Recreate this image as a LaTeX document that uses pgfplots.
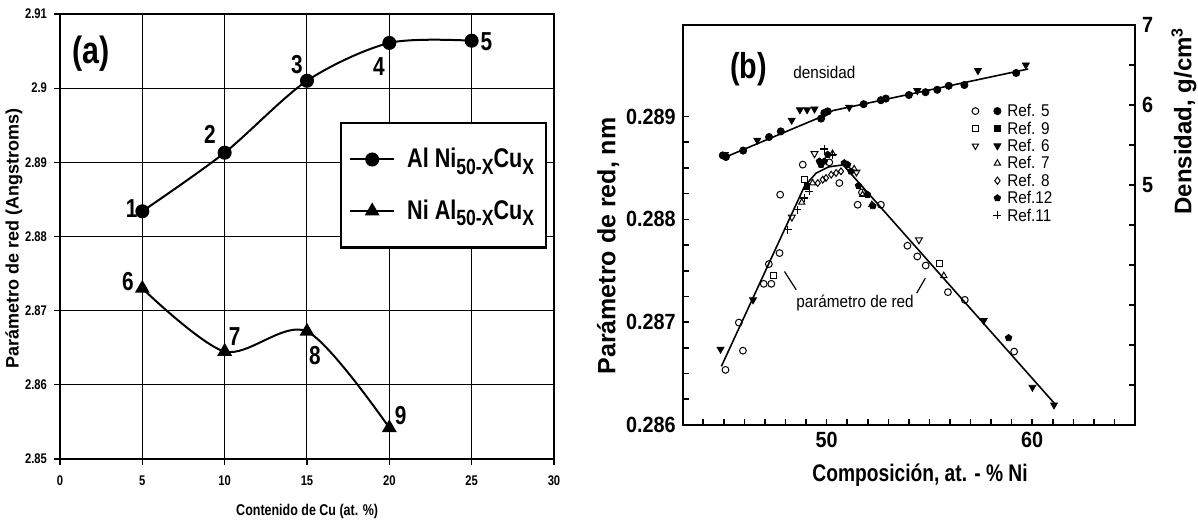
\documentclass[border=0pt]{standalone}
\usepackage{fontspec}
\setmainfont{Liberation Sans}
\newfontfamily\nA[FakeStretch=0.8]{Liberation Sans}
\newfontfamily\nB[FakeStretch=0.9]{Liberation Sans}
\usepackage{pgfplots}
\pgfplotsset{compat=1.18}
\newcommand{\sub}[1]{\raisebox{-3.3pt}{\fontsize{11}{11}\selectfont #1}}
\begin{document}
\begin{tikzpicture}
\useasboundingbox (0pt,0pt) rectangle (599pt,262pt);
% ---------------- Panel (a)
\begin{axis}[
  at={(30pt,32.5pt)}, anchor=south west, scale only axis,
  width=247pt, height=222.5pt,
  xmin=0, xmax=30, ymin=2.85, ymax=2.91,
  xtick={0,5,10,15,20,25,30},
  ytick={2.85,2.86,2.87,2.88,2.89,2.9,2.91},
  xtick pos=bottom, ytick pos=left,
  grid=major, major grid style={line width=0.5pt, black},
  axis line style={line width=1.1pt},
  tick align=outside, major tick length=3pt,
  tick style={line width=0.6pt, black},
  scaled y ticks=false,
  yticklabel style={/pgf/number format/.cd, fixed, precision=2},
  /pgf/number format/assume math mode=true,
  tick label style={font=\nA\bfseries\fontsize{7}{8}\selectfont},
  xticklabel style={yshift=-2pt},
  clip=false,
  legend cell align=left,
  legend style={at={(0.5668,0.7573)}, anchor=north west, draw=black,
    line width=1.2pt, fill=white, inner xsep=4pt, inner ysep=10.5pt,
    row sep=10.5pt, font=\nA\bfseries\fontsize{13.5}{14}\selectfont,
    /tikz/every odd column/.append style={column sep=4pt}},
]
\addplot[line width=1pt, smooth, mark=*, mark size=3pt, mark options={solid, fill=black},
  legend image code/.code={\draw[line width=1pt] (0pt,0pt) -- (22pt,0pt); \draw[mark=*, mark size=3pt] plot coordinates {(11pt,0pt)};}]
  coordinates {(5,2.8834)(10,2.8913)(15,2.9010)(20,2.9061)(25,2.9064)};
\addlegendentry{Al Ni\sub{50-X}Cu\sub{X}}
\addplot[line width=1pt, smooth, mark=triangle*, mark size=3.3pt, mark options={solid, fill=black},
  legend image code/.code={\draw[line width=1pt] (0pt,0pt) -- (22pt,0pt); \draw[mark=triangle*, mark size=3.3pt] plot coordinates {(11pt,0pt)};}]
  coordinates {(5,2.8730)(10,2.8645)(15,2.8672)(20,2.8542)};
\addlegendentry{Ni Al\sub{50-X}Cu\sub{X}}
\begin{scope}[every node/.style={font=\nA\bfseries\fontsize{13}{13}\selectfont}]
\node at (axis cs:4.35,2.8838) {1};
\node at (axis cs:9.10,2.8937) {2};
\node at (axis cs:14.39,2.9032) {3};
\node at (axis cs:19.37,2.9029) {4};
\node at (axis cs:25.9,2.9063) {5};
\node at (axis cs:4.12,2.8739) {6};
\node at (axis cs:10.61,2.8665) {7};
\node at (axis cs:15.48,2.8640) {8};
\node at (axis cs:20.69,2.8559) {9};
\end{scope}
\node[font=\nA\bfseries\fontsize{19}{19}\selectfont] at (axis cs:1.87,2.9047) {(a)};
\node[rotate=90, font=\bfseries\fontsize{9}{10}\selectfont] at (rel axis cs:-0.0931,0.4966) {Parámetro de red (Angstroms)};
\node[font=\nA\bfseries\fontsize{7.8}{9}\selectfont] at (rel axis cs:0.5004,-0.119) {Contenido de Cu (at. \%)};
\end{axis}
% ---------------- Panel (b), lattice parameter (left axis)
\begin{axis}[
  at={(341.35pt,49.5pt)}, anchor=south west, scale only axis,
  width=226.15pt, height=200pt,
  xmin=43, xmax=65, ymin=0.286, ymax=0.28989,
  xtick={50,60}, minor xtick={44,45,46,47,48,49,51,52,53,54,55,56,57,58,59,61,62,63,64},
  ytick={0.286,0.287,0.288,0.289}, minor y tick num=3,
  xtick pos=bottom, ytick pos=left,
  tick align=inside, major tick length=3pt, minor tick length=3pt,
  axis line style={line width=1.2pt},
  tick style={line width=0.8pt, black},
  scaled y ticks=false,
  yticklabel style={/pgf/number format/.cd, fixed, precision=3, fixed zerofill},
  /pgf/number format/assume math mode=true,
  tick label style={font=\nB\bfseries\fontsize{11}{12}\selectfont},
  clip=false,
  legend cell align=left,
  legend style={at={(0.6197,0.8175)}, anchor=north west, draw=none, fill=none,
    font=\nB\fontsize{8.5}{9}\selectfont, row sep=0pt,
    nodes={inner sep=1pt, text height=6.2pt, text depth=0.5pt}},
]
% line through lattice parameter data
\addplot[forget plot, line width=0.8pt] coordinates {
  (44.88,0.28657)(48.92,0.28832)(49.49,0.28845)(50.1,0.28851)(50.8,0.28853)(61.08,0.28621)};
% Ref. 5 open circles
\addplot[forget plot, only marks, mark=o, mark size=1.7pt, line width=0.5pt] coordinates {
  (45.08,0.286536)(45.93,0.286723)(45.73,0.286996)(46.94,0.287373)(47.31,0.287373)
  (47.19,0.287565)(47.71,0.287672)(47.74,0.288240)(48.84,0.288532)(50.13,0.288554)
  (50.62,0.288353)(51.51,0.288142)(51.72,0.288262)(52.64,0.288142)(53.93,0.287743)
  (54.41,0.287639)(54.82,0.287551)(55.90,0.287292)(56.72,0.287217)(59.12,0.286714)};
% Ref. 9 open squares
\addplot[forget plot, only marks, mark=square, mark size=1.5pt, line width=0.5pt] coordinates {
  (47.42,0.287454)(48.92,0.288386)(55.49,0.287574)};
% Ref. 9 filled squares
\addplot[forget plot, only marks, mark=square*, mark size=1.4pt] coordinates {
  (49.05,0.288320)};
% Ref. 6 filled down triangles
\addplot[forget plot, only marks, mark=triangle*, mark size=2pt, mark options={rotate=180, fill=black}] coordinates {
  (44.84,0.286737)(46.42,0.287217)(57.64,0.287016)(60.01,0.286367)(61.06,0.286195)};
% Ref. 6 open down triangles
\addplot[forget plot, only marks, mark=triangle, mark size=2pt, line width=0.5pt, mark options={rotate=180}] coordinates {
  (48.31,0.288022)(49.41,0.288639)(54.49,0.287801)(51.45,0.288460)};
% Ref. 7 open up triangles
\addplot[forget plot, only marks, mark=triangle, mark size=1.8pt, line width=0.5pt] coordinates {
  (48.79,0.288165)(49.32,0.288353)(50.29,0.288639)(51.34,0.288490)(52.20,0.288142)(51.75,0.288240)(55.70,0.287451)};
% Ref. 8 diamonds
\addplot[forget plot, only marks, mark=diamond, mark size=1.7pt, line width=0.5pt] coordinates {
  (49.57,0.288353)(49.81,0.288386)(49.97,0.288402)(50.22,0.288434)(50.46,0.288451)(50.70,0.288467)};
% Ref. 12 filled pentagons
\addplot[forget plot, only marks, mark=pentagon*, mark size=1.7pt] coordinates {
  (49.65,0.288564)(49.73,0.288532)(49.89,0.288564)(50.05,0.288629)(50.86,0.288548)(51.02,0.288532)
  (51.18,0.288467)(51.55,0.288327)(51.99,0.288240)(52.25,0.288130)(58.85,0.286847)};
% Ref. 11 plus
\addplot[forget plot, only marks, mark=+, mark size=2pt, line width=0.6pt] coordinates {
  (48.10,0.287900)(48.57,0.288093)(48.92,0.288207)(49.16,0.288272)(49.89,0.288684)(50.29,0.288629)};
% legend
\addlegendimage{legend image code/.code={\path[draw=none] (-3pt,0pt) (15pt,0pt); \draw[mark=o, mark size=1.7pt, line width=0.5pt] plot coordinates {(0pt,0pt)}; \draw[mark=*, mark size=1.8pt] plot coordinates {(11pt,0pt)};}}
\addlegendentry{Ref. 5}
\addlegendimage{legend image code/.code={\path[draw=none] (-3pt,0pt) (15pt,0pt); \draw[mark=square, mark size=1.5pt, line width=0.5pt] plot coordinates {(0pt,0pt)}; \draw[mark=square*, mark size=1.5pt] plot coordinates {(11pt,0pt)};}}
\addlegendentry{Ref. 9}
\addlegendimage{legend image code/.code={\path[draw=none] (-3pt,0pt) (15pt,0pt); \draw[mark=triangle, mark size=1.8pt, line width=0.5pt, mark options={rotate=180}] plot coordinates {(0pt,0pt)}; \draw[mark=triangle*, mark size=2pt, mark options={rotate=180, fill=black}] plot coordinates {(11pt,0pt)};}}
\addlegendentry{Ref. 6}
\addlegendimage{legend image code/.code={\path[draw=none] (-3pt,0pt) (15pt,0pt); \draw[mark=triangle, mark size=1.8pt, line width=0.5pt] plot coordinates {(11pt,0pt)};}}
\addlegendentry{Ref. 7}
\addlegendimage{legend image code/.code={\path[draw=none] (-3pt,0pt) (15pt,0pt); \draw[mark=diamond, mark size=1.8pt, line width=0.5pt] plot coordinates {(11pt,0pt)};}}
\addlegendentry{Ref. 8}
\addlegendimage{legend image code/.code={\path[draw=none] (-3pt,0pt) (15pt,0pt); \draw[mark=pentagon*, mark size=1.7pt] plot coordinates {(11pt,0pt)};}}
\addlegendentry{Ref.12}
\addlegendimage{legend image code/.code={\path[draw=none] (-3pt,0pt) (15pt,0pt); \draw[mark=+, mark size=2pt, line width=0.6pt] plot coordinates {(11pt,0pt)};}}
\addlegendentry{Ref.11}
% annotations
\node[font=\nA\bfseries\fontsize{18}{18}\selectfont] at (axis cs:46.21,0.289457) {(b)};
\node[font=\nB\fontsize{8.5}{9}\selectfont] at (axis cs:49.89,0.289424) {densidad};
\node[font=\nB\fontsize{8.5}{9}\selectfont] at (axis cs:51.38,0.287185) {parámetro de red};
\draw[line width=0.6pt] (axis cs:47.95,0.287493) -- (axis cs:48.52,0.287315);
\draw[line width=0.6pt] (axis cs:54.80,0.287428) -- (axis cs:54.38,0.287282);
\node[rotate=90, font=\bfseries\fontsize{12.5}{13}\selectfont] at (rel axis cs:-0.165,0.4475) {Parámetro de red, nm};
\node[font=\nA\bfseries\fontsize{12}{13}\selectfont] at (rel axis cs:0.5247,-0.125) {Composición, at. - \% Ni};
\end{axis}
% ---------------- Panel (b), density (right axis)
\begin{axis}[
  at={(341.35pt,49.5pt)}, anchor=south west, scale only axis,
  width=226.15pt, height=200pt,
  xmin=43, xmax=65, ymin=2, ymax=7,
  axis x line=none, axis y line*=right,
  ytick={5,6,7}, minor ytick={2.5,3,3.5,4,4.5,5.5,6.5},
  tick align=inside, major tick length=3pt, minor tick length=3pt,
  axis line style={line width=1.2pt},
  tick style={line width=0.8pt, black},
  /pgf/number format/assume math mode=true,
  tick label style={font=\nB\bfseries\fontsize{11}{12}\selectfont},
  clip=false,
]
\addplot[line width=0.8pt] coordinates {(45.0,5.34)(49.9,5.87)(50.3,5.93)(59.8,6.45)};
\addplot[only marks, mark=*, mark size=1.8pt] coordinates {
  (44.95,5.37)(45.1,5.35)(45.94,5.43)(47.2,5.60)(47.77,5.67)(49.73,5.83)(49.89,5.90)(50.05,5.92)
  (51.8,6.01)(52.64,6.06)(52.88,6.08)(54.0,6.125)(54.81,6.16)(55.38,6.19)(55.94,6.24)(56.7,6.25)(59.22,6.40)};
\addplot[only marks, mark=triangle*, mark size=2pt, mark options={rotate=180, fill=black}] coordinates {
  (45.05,5.38)(46.63,5.56)(48.3,5.81)(48.7,5.94)(49.05,5.94)(49.41,5.95)(51.1,5.97)(54.41,6.18)(57.36,6.43)(59.69,6.50)};
\node[rotate=90, font=\bfseries\fontsize{12}{13}\selectfont] at (rel axis cs:1.108,0.76) {Densidad, g/cm\textsuperscript{3}};
\end{axis}
\end{tikzpicture}
\end{document}
